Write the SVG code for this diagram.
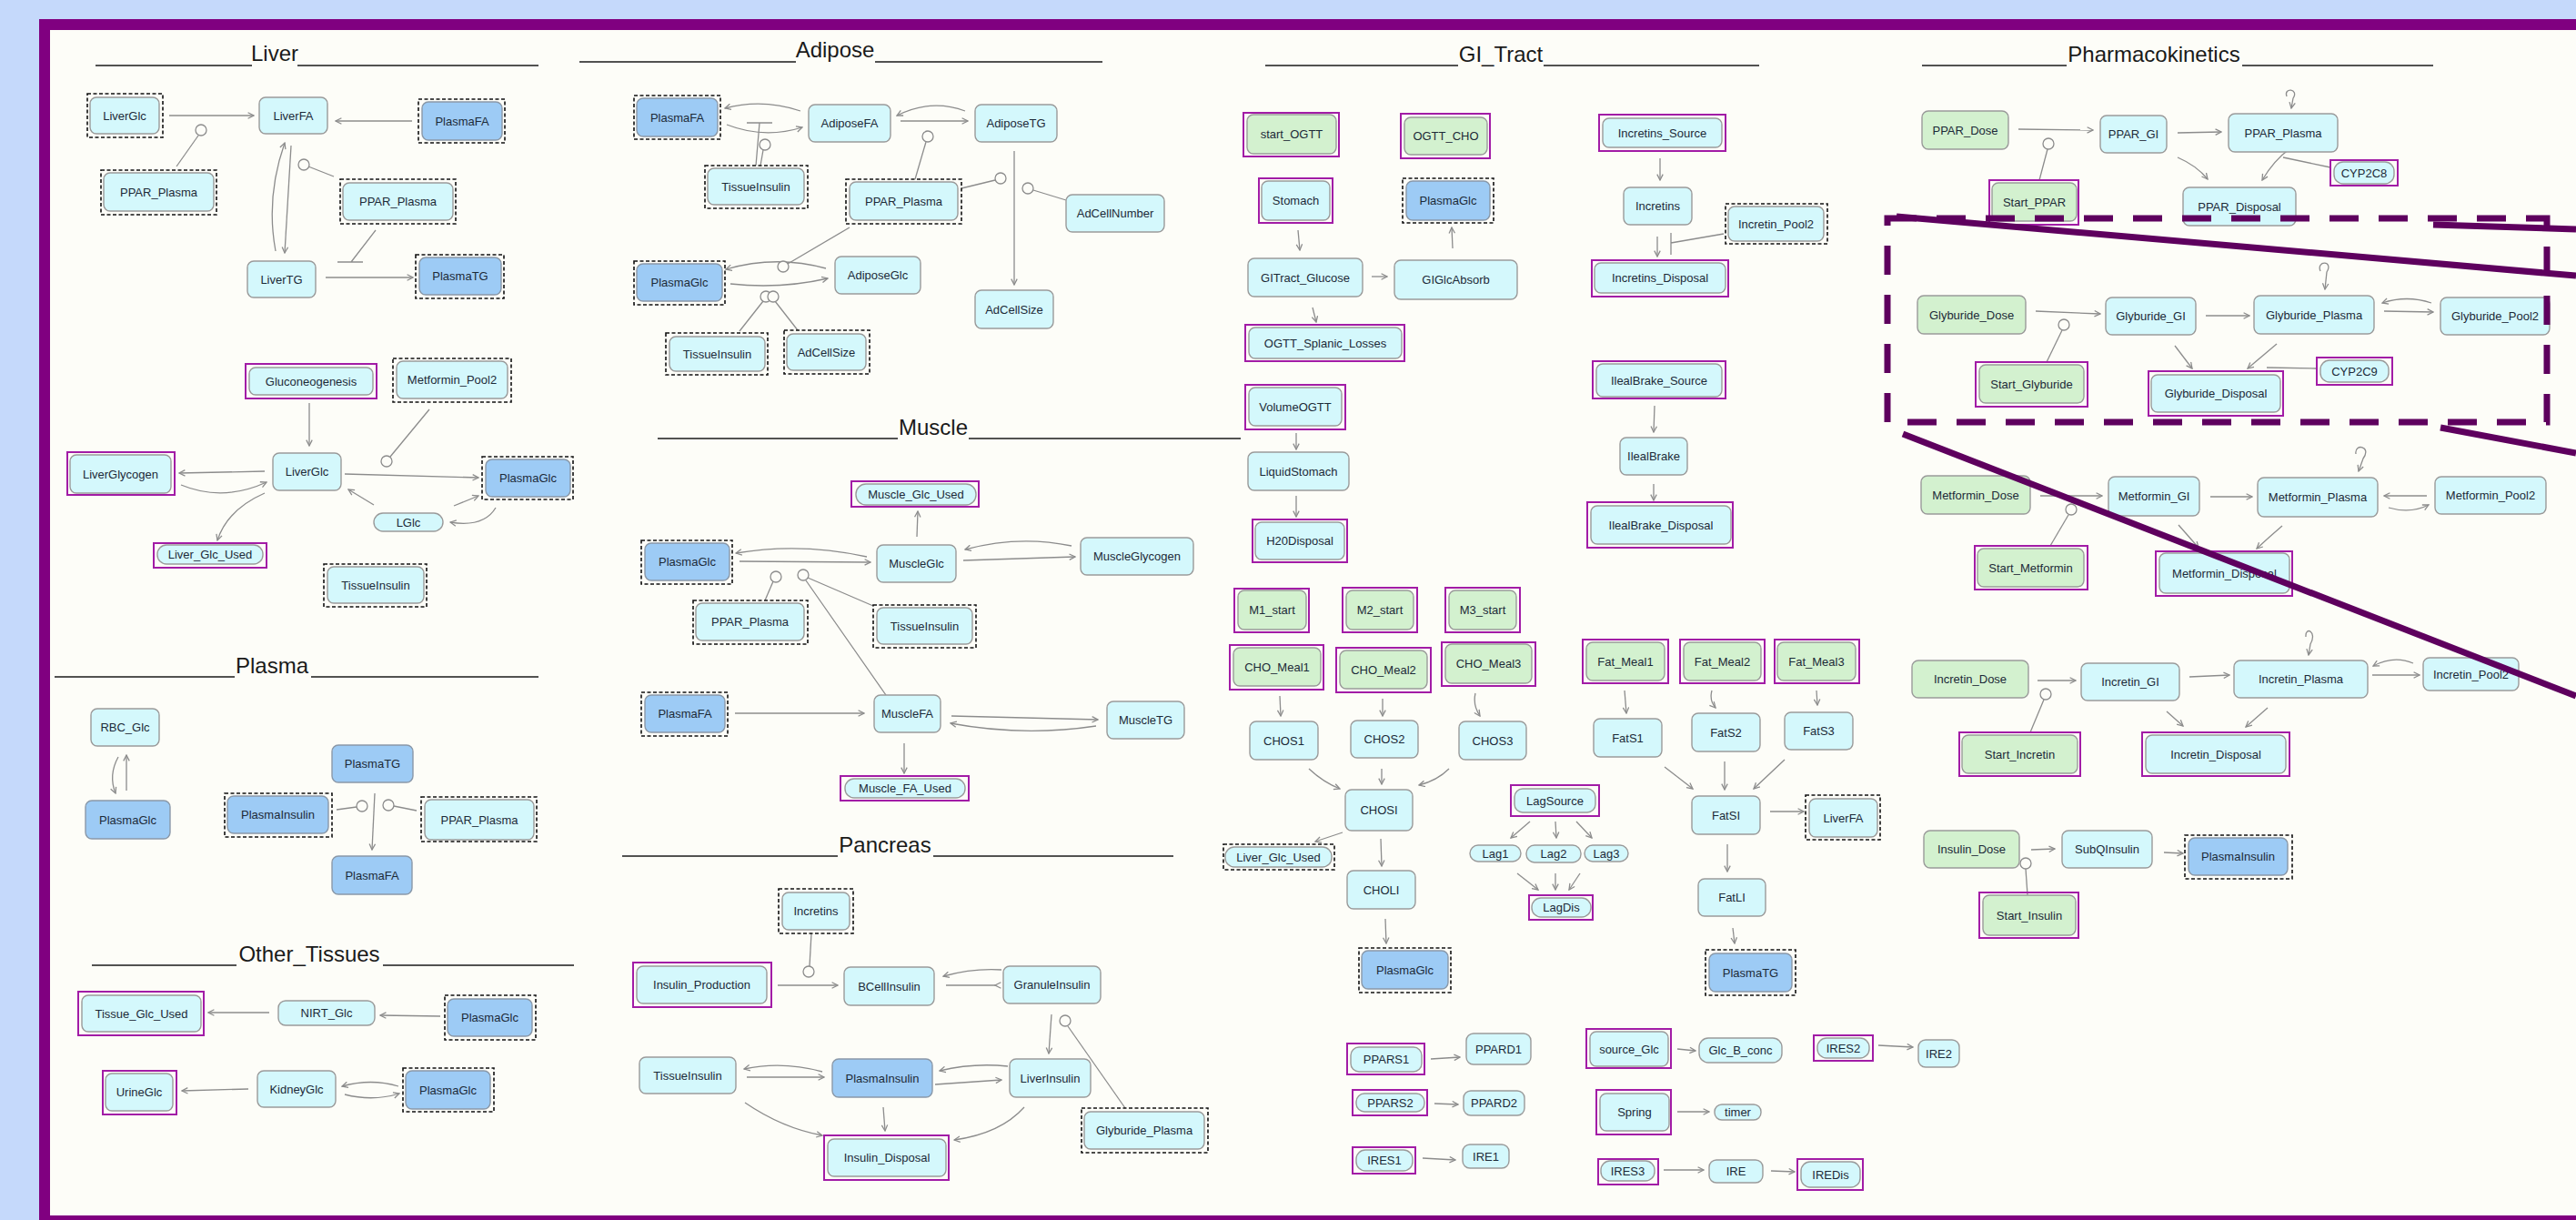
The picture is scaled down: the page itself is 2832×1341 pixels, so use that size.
<svg xmlns="http://www.w3.org/2000/svg" width="2832" height="1341" viewBox="0 0 2832 1341">
<style>
.bg{fill:#c5d9fb}.fr{fill:#800080}.cv{fill:#fdfdf8}
.tt{font-family:"Liberation Sans",Arial,sans-serif;font-size:24px;fill:#1a1a1a;text-anchor:middle}
.ul{stroke:#1a1a1a;stroke-width:1.6}
.n{fill:#d4f8fc;stroke:#9a9a9a;stroke-width:1.4}
.d{fill:#9dcbf5;stroke:#8a98a8;stroke-width:1.4}
.g{fill:#d3f1cf;stroke:#9a9a9a;stroke-width:1.4}
.pb{fill:none;stroke:#a21ca6;stroke-width:2}
.db{fill:none;stroke:#111;stroke-width:1.6;stroke-dasharray:4 2.5}
.lb{font-family:"Liberation Sans",Arial,sans-serif;font-size:13px;fill:#1c2a38;text-anchor:middle;dominant-baseline:central}
.c{fill:none;stroke:#8c8c8c;stroke-width:1.3}
.a{marker-end:url(#ar)}
.m{fill:#fdfdf8;stroke:#8c8c8c;stroke-width:1.3}
.hl{fill:none;stroke:#5e005e;stroke-width:7}
.hd{stroke-dasharray:32 22}
</style>
<defs>
<marker id="ar" viewBox="0 0 10 10" refX="9" refY="5" markerWidth="8" markerHeight="8" markerUnits="userSpaceOnUse" orient="auto"><path d="M1,1 L9,5 L1,9" fill="none" stroke="#8c8c8c" stroke-width="1.6"/></marker>
<marker id="arr" viewBox="0 0 10 10" refX="1" refY="5" markerWidth="8" markerHeight="8" markerUnits="userSpaceOnUse" orient="auto"><path d="M9,1 L1,5 L9,9" fill="none" stroke="#8c8c8c" stroke-width="1.6"/></marker>
</defs>
<rect class="bg" x="0" y="0" width="2832" height="1341"/>
<rect class="cv" x="55" y="33" width="2777" height="1303"/>
<rect class="fr" x="43" y="21" width="12" height="1320"/>
<rect class="fr" x="43" y="21" width="2789" height="12"/>
<rect class="fr" x="43" y="1336" width="2789" height="5"/>

<g id="titles">
<text class="tt" x="302" y="67">Liver</text><path class="ul" d="M105,72H277M327,72H592"/>
<text class="tt" x="299" y="740">Plasma</text><path class="ul" d="M60,744H258M342,744H592"/>
<text class="tt" x="340" y="1057">Other_Tissues</text><path class="ul" d="M101,1061H260M421,1061H631"/>
<text class="tt" x="918" y="63">Adipose</text><path class="ul" d="M637,68H875M962,68H1212"/>
<text class="tt" x="1026" y="478">Muscle</text><path class="ul" d="M723,482H987M1065,482H1364"/>
<text class="tt" x="973" y="937">Pancreas</text><path class="ul" d="M684,941H921M1026,941H1290"/>
<text class="tt" x="1650" y="68">GI_Tract</text><path class="ul" d="M1391,72H1603M1697,72H1934"/>
<text class="tt" x="2368" y="68">Pharmacokinetics</text><path class="ul" d="M2113,72H2272M2465,72H2675"/>
</g>

<g id="connectors">
<!-- Liver -->
<path class="c a" d="M186,127L279,127"/>
<path class="c a" d="M453,133L369,133"/>
<path class="c a" d="M320,160L313,278"/>
<path class="c a" d="M303,276Q292,217 313,157"/>
<path class="c" d="M194,183L218,149"/><circle class="m" cx="221" cy="143" r="6"/>
<path class="c" d="M367,194L339,183"/><circle class="m" cx="334" cy="181" r="6"/>
<path class="c a" d="M358,305L454,305"/>
<path class="c" d="M413,253L386,288M371,288H399"/>
<path class="c a" d="M340,443L340,490"/>
<path class="c" d="M472,450L429,502"/><circle class="m" cx="425" cy="507" r="6"/>
<path class="c a" d="M291,518L197,520"/>
<path class="c a" d="M199,533Q245,552 293,530"/>
<path class="c a" d="M291,542Q250,560 239,594"/>
<path class="c a" d="M379,521L526,525"/>
<path class="c a" d="M411,555L383,538"/>
<path class="c a" d="M499,556L526,545"/>
<path class="c a" d="M545,558Q532,580 495,574"/>
<!-- Plasma -->
<path class="c a" d="M130,832Q119,852 127,872"/>
<path class="c a" d="M139,869L139,830"/>
<path class="c a" d="M412,872L409,934"/>
<path class="c" d="M370,890L392,887"/><circle class="m" cx="398" cy="886" r="6"/>
<path class="c" d="M458,891L433,886"/><circle class="m" cx="427" cy="885" r="6"/>
<!-- Other tissues -->
<path class="c a" d="M296,1113L229,1113"/>
<path class="c a" d="M484,1117L418,1116"/>
<path class="c a" d="M273,1197L200,1199"/>
<path class="c a" d="M438,1194Q408,1185 376,1194"/>
<path class="c a" d="M379,1203Q410,1211 439,1202"/>
<!-- Adipose -->
<path class="c a" d="M880,122Q838,108 797,119"/>
<path class="c a" d="M799,137Q840,153 882,140"/>
<path class="c" d="M831,182L835,135M821,135H849"/>
<path class="c" d="M836,182L839,165"/><circle class="m" cx="841" cy="159" r="6"/>
<path class="c a" d="M1061,122Q1024,108 986,127"/>
<path class="c a" d="M990,133L1064,133"/>
<path class="c" d="M1006,197L1018,156"/><circle class="m" cx="1020" cy="150" r="6"/>
<path class="c a" d="M1115,166L1115,313"/>
<path class="c" d="M1057,207L1094,198"/><circle class="m" cx="1100" cy="196" r="6"/>
<path class="c" d="M1172,220L1136,209"/><circle class="m" cx="1130" cy="207" r="6"/>
<path class="c a" d="M908,295Q853,280 798,296"/>
<path class="c a" d="M803,312Q858,318 910,306"/>
<path class="c" d="M934,250L866,290"/><circle class="m" cx="861" cy="293" r="6"/>
<path class="c" d="M813,364L839,331"/><circle class="m" cx="842" cy="326" r="6"/>
<path class="c" d="M877,363L852,331"/><circle class="m" cx="850" cy="326" r="6"/>
<!-- Muscle -->
<path class="c a" d="M1008,590L1009,562"/>
<path class="c a" d="M953,612Q880,596 809,608"/>
<path class="c a" d="M813,617L957,618"/>
<path class="c a" d="M1178,600Q1120,588 1061,604"/>
<path class="c a" d="M1059,616L1182,612"/>
<path class="c" d="M841,660L850,639"/><circle class="m" cx="853" cy="634" r="6"/>
<path class="c" d="M960,666L888,635M974,764L886,638"/><circle class="m" cx="883" cy="632" r="6"/>
<path class="c a" d="M808,784L950,784"/>
<path class="c a" d="M1046,787L1207,791"/>
<path class="c a" d="M1205,798Q1125,810 1045,795"/>
<path class="c a" d="M994,817L994,850"/>
<!-- Pancreas -->
<path class="c a" d="M855,1083L921,1083"/>
<path class="c" d="M892,1026L890,1062"/><circle class="m" cx="889" cy="1068" r="6"/>
<path class="c a" d="M1101,1066Q1070,1064 1037,1073"/>
<path class="c" d="M1040,1083L1094,1083" marker-end="url(#arr)"/>
<path class="c a" d="M1156,1115L1153,1158"/>
<path class="c" d="M1237,1218L1174,1128"/><circle class="m" cx="1171" cy="1122" r="6"/>
<path class="c a" d="M904,1178Q860,1166 818,1175"/>
<path class="c a" d="M821,1184L906,1184"/>
<path class="c a" d="M1108,1172Q1070,1168 1033,1177"/>
<path class="c a" d="M1028,1192L1101,1187"/>
<path class="c a" d="M819,1212Q860,1240 904,1248"/>
<path class="c a" d="M971,1217L973,1243"/>
<path class="c a" d="M1126,1217Q1100,1246 1049,1253"/>
<!-- GI tract -->
<path class="c a" d="M1427,253L1429,275"/>
<path class="c a" d="M1597,273L1596,250"/>
<path class="c a" d="M1508,304L1525,304"/>
<path class="c a" d="M1443,338L1447,354"/>
<path class="c a" d="M1825,174L1825,198"/>
<path class="c a" d="M1822,260L1822,282"/>
<path class="c" d="M1895,257L1837,267M1837,256V280"/>
<path class="c a" d="M1819,446L1818,475"/>
<path class="c a" d="M1818,532L1818,550"/>
<path class="c a" d="M1425,476L1425,494"/>
<path class="c a" d="M1425,545L1425,568"/>
<path class="c a" d="M1407,765L1408,787"/>
<path class="c a" d="M1520,768L1520,787"/>
<path class="c a" d="M1622,762Q1619,775 1627,787"/>
<path class="c a" d="M1439,845Q1455,860 1473,867"/>
<path class="c a" d="M1519,845L1519,862"/>
<path class="c a" d="M1593,845Q1580,858 1560,863"/>
<path class="c a" d="M1476,915L1446,925"/>
<path class="c a" d="M1518,922L1519,952"/>
<path class="c a" d="M1523,1010L1524,1037"/>
<path class="c a" d="M1682,903L1661,921"/>
<path class="c a" d="M1710,903L1711,921"/>
<path class="c a" d="M1733,903L1750,921"/>
<path class="c a" d="M1668,960L1691,978"/>
<path class="c a" d="M1710,960L1710,978"/>
<path class="c a" d="M1737,960L1725,978"/>
<path class="c a" d="M1786,759L1788,784"/>
<path class="c a" d="M1882,759Q1879,770 1886,778"/>
<path class="c a" d="M1997,759L1998,775"/>
<path class="c a" d="M1830,843L1861,867"/>
<path class="c a" d="M1896,837L1896,868"/>
<path class="c a" d="M1962,835L1928,867"/>
<path class="c a" d="M1946,892L1983,892"/>
<path class="c a" d="M1899,928L1899,958"/>
<path class="c a" d="M1905,1020L1907,1037"/>
<path class="c a" d="M1573,1164L1605,1162"/>
<path class="c a" d="M1577,1213L1603,1214"/>
<path class="c a" d="M1564,1273L1600,1275"/>
<path class="c a" d="M1844,1153L1864,1155"/>
<path class="c a" d="M2065,1149L2103,1151"/>
<path class="c a" d="M1844,1222L1879,1222"/>
<path class="c a" d="M1829,1286L1873,1286"/>
<path class="c a" d="M1947,1287L1973,1288"/>
<!-- Pharmacokinetics -->
<path class="c a" d="M2219,142L2301,143"/>
<path class="c" d="M2242,198L2251,164"/><circle class="m" cx="2252" cy="158" r="6"/>
<path class="c a" d="M2394,146L2442,145"/>
<path class="c a" d="M2514,106C2510,96 2528,97 2521,108L2519,119"/>
<path class="c a" d="M2394,173Q2415,182 2427,197"/>
<path class="c a" d="M2518,163Q2500,176 2487,198"/>
<path class="c" d="M2562,184L2510,173"/>
<path class="c a" d="M2238,342L2309,345"/>
<path class="c" d="M2250,398L2267,363"/><circle class="m" cx="2269" cy="357" r="6"/>
<path class="c a" d="M2425,347L2473,347"/>
<path class="c a" d="M2551,298C2546,286 2566,286 2558,299L2556,318"/>
<path class="c a" d="M2673,333Q2646,324 2619,333"/>
<path class="c a" d="M2621,342L2675,343"/>
<path class="c a" d="M2391,380L2410,405"/>
<path class="c a" d="M2503,378L2471,405"/>
<path class="c" d="M2547,405L2492,404"/>
<path class="c a" d="M2243,545L2311,545"/>
<path class="c" d="M2254,600L2274,566"/><circle class="m" cx="2277" cy="560" r="6"/>
<path class="c a" d="M2430,546L2476,546"/>
<path class="c a" d="M2590,499C2588,487 2608,490 2598,504L2593,518"/>
<path class="c a" d="M2668,545L2621,545"/>
<path class="c a" d="M2626,558Q2650,565 2670,555"/>
<path class="c a" d="M2395,577L2417,602"/>
<path class="c a" d="M2509,578Q2495,590 2481,603"/>
<path class="c a" d="M2240,748L2282,748"/>
<path class="c" d="M2232,805L2247,769"/><circle class="m" cx="2249" cy="763" r="6"/>
<path class="c a" d="M2407,744L2451,742"/>
<path class="c a" d="M2535,700C2534,688 2548,694 2540,708L2538,720"/>
<path class="c a" d="M2653,729Q2632,720 2609,732"/>
<path class="c a" d="M2608,742L2660,742"/>
<path class="c a" d="M2382,782L2400,798"/>
<path class="c a" d="M2493,778L2469,799"/>
<path class="c a" d="M2233,934L2259,933"/>
<path class="c" d="M2229,984L2227,955"/><circle class="m" cx="2227" cy="949" r="6"/>
<path class="c a" d="M2379,937L2400,938"/>
</g>

<!-- Liver nodes -->
<g id="liver-LiverGlc"><rect class="db" x="96" y="103" width="83" height="48"/><rect class="n" x="99" y="107" width="76" height="40" rx="7"/><text class="lb" x="137" y="127">LiverGlc</text></g>
<g id="liver-LiverFA"><rect class="n" x="285" y="107" width="75" height="40" rx="7"/><text class="lb" x="322.5" y="127">LiverFA</text></g>
<g id="liver-PlasmaFA"><rect class="db" x="460" y="109" width="95" height="48"/><rect class="d" x="464" y="112" width="88" height="42" rx="7"/><text class="lb" x="508" y="133">PlasmaFA</text></g>
<g id="liver-PPAR_Plasma1"><rect class="db" x="111" y="187" width="127" height="49"/><rect class="n" x="114" y="190" width="121" height="42" rx="7"/><text class="lb" x="174.5" y="211">PPAR_Plasma</text></g>
<g id="liver-PPAR_Plasma2"><rect class="db" x="374" y="197" width="127" height="49"/><rect class="n" x="377" y="201" width="121" height="41" rx="7"/><text class="lb" x="437.5" y="221.5">PPAR_Plasma</text></g>
<g id="liver-LiverTG"><rect class="n" x="272" y="287" width="75" height="40" rx="7"/><text class="lb" x="309.5" y="307">LiverTG</text></g>
<g id="liver-PlasmaTG"><rect class="db" x="457" y="280" width="97" height="48"/><rect class="d" x="461" y="283" width="90" height="41" rx="7"/><text class="lb" x="506" y="303.5">PlasmaTG</text></g>
<g id="liver-Gluconeogenesis"><rect class="pb" x="270" y="400" width="144" height="38"/><rect class="n" x="274" y="404" width="136" height="30" rx="7"/><text class="lb" x="342" y="419">Gluconeogenesis</text></g>
<g id="liver-Metformin_Pool2"><rect class="db" x="432" y="394" width="130" height="48"/><rect class="n" x="436" y="397" width="122" height="41" rx="7"/><text class="lb" x="497" y="417.5">Metformin_Pool2</text></g>
<g id="liver-LiverGlycogen"><rect class="pb" x="74" y="497" width="118" height="47"/><rect class="n" x="77" y="500" width="111" height="42" rx="7"/><text class="lb" x="132.5" y="521">LiverGlycogen</text></g>
<g id="liver-LiverGlc2"><rect class="n" x="300" y="498" width="75" height="41" rx="7"/><text class="lb" x="337.5" y="518.5">LiverGlc</text></g>
<g id="liver-PlasmaGlc"><rect class="db" x="530" y="502" width="100" height="47"/><rect class="d" x="534" y="505" width="93" height="41" rx="7"/><text class="lb" x="580.5" y="525.5">PlasmaGlc</text></g>
<g id="liver-LGlc"><rect class="n" x="411" y="564" width="76" height="20" rx="10"/><text class="lb" x="449" y="574">LGlc</text></g>
<g id="liver-Liver_Glc_Used"><rect class="pb" x="169" y="597" width="124" height="27"/><rect class="n" x="173" y="599" width="116" height="21" rx="10"/><text class="lb" x="231" y="609.5">Liver_Glc_Used</text></g>
<g id="liver-TissueInsulin"><rect class="db" x="356" y="620" width="113" height="47"/><rect class="n" x="360" y="623" width="106" height="40" rx="7"/><text class="lb" x="413" y="643">TissueInsulin</text></g>

<!-- Plasma nodes -->
<g id="plasma-RBC_Glc"><rect class="n" x="100" y="779" width="75" height="41" rx="7"/><text class="lb" x="137.5" y="799.5">RBC_Glc</text></g>
<g id="plasma-PlasmaGlc"><rect class="d" x="94" y="880" width="93" height="42" rx="7"/><text class="lb" x="140.5" y="901">PlasmaGlc</text></g>
<g id="plasma-PlasmaTG"><rect class="d" x="365" y="819" width="89" height="41" rx="7"/><text class="lb" x="409.5" y="839.5">PlasmaTG</text></g>
<g id="plasma-PlasmaInsulin"><rect class="db" x="247" y="872" width="118" height="48"/><rect class="d" x="250" y="875" width="111" height="41" rx="7"/><text class="lb" x="305.5" y="895.5">PlasmaInsulin</text></g>
<g id="plasma-PPAR_Plasma"><rect class="db" x="463" y="876" width="127" height="49"/><rect class="n" x="467" y="879" width="120" height="44" rx="7"/><text class="lb" x="527" y="901">PPAR_Plasma</text></g>
<g id="plasma-PlasmaFA"><rect class="d" x="365" y="941" width="88" height="42" rx="7"/><text class="lb" x="409" y="962">PlasmaFA</text></g>

<!-- Other tissues nodes -->
<g id="ot-Tissue_Glc_Used"><rect class="pb" x="86" y="1090" width="138" height="48"/><rect class="n" x="90" y="1094" width="131" height="40" rx="7"/><text class="lb" x="155.5" y="1114">Tissue_Glc_Used</text></g>
<g id="ot-NIRT_Glc"><rect class="n" x="306" y="1100" width="106" height="27" rx="8"/><text class="lb" x="359" y="1113.5">NIRT_Glc</text></g>
<g id="ot-PlasmaGlc1"><rect class="db" x="489" y="1094" width="100" height="49"/><rect class="d" x="492" y="1098" width="93" height="41" rx="7"/><text class="lb" x="538.5" y="1118.5">PlasmaGlc</text></g>
<g id="ot-UrineGlc"><rect class="pb" x="113" y="1177" width="81" height="48"/><rect class="n" x="116" y="1180" width="74" height="41" rx="7"/><text class="lb" x="153" y="1200.5">UrineGlc</text></g>
<g id="ot-KidneyGlc"><rect class="n" x="283" y="1177" width="86" height="40" rx="7"/><text class="lb" x="326" y="1197">KidneyGlc</text></g>
<g id="ot-PlasmaGlc2"><rect class="db" x="443" y="1174" width="100" height="48"/><rect class="d" x="446" y="1177" width="93" height="42" rx="7"/><text class="lb" x="492.5" y="1198">PlasmaGlc</text></g>

<!-- Adipose nodes -->
<g id="ad-PlasmaFA"><rect class="db" x="697" y="105" width="95" height="48"/><rect class="d" x="700" y="108" width="89" height="42" rx="7"/><text class="lb" x="744.5" y="129">PlasmaFA</text></g>
<g id="ad-AdiposeFA"><rect class="n" x="889" y="115" width="90" height="41" rx="7"/><text class="lb" x="934" y="135.5">AdiposeFA</text></g>
<g id="ad-AdiposeTG"><rect class="n" x="1072" y="115" width="90" height="41" rx="7"/><text class="lb" x="1117" y="135.5">AdiposeTG</text></g>
<g id="ad-TissueInsulin1"><rect class="db" x="775" y="182" width="113" height="47"/><rect class="n" x="778" y="185" width="106" height="40" rx="7"/><text class="lb" x="831" y="205">TissueInsulin</text></g>
<g id="ad-PPAR_Plasma"><rect class="db" x="930" y="197" width="127" height="49"/><rect class="n" x="934" y="200" width="119" height="42" rx="7"/><text class="lb" x="993.5" y="221">PPAR_Plasma</text></g>
<g id="ad-AdCellNumber"><rect class="n" x="1172" y="214" width="108" height="41" rx="7"/><text class="lb" x="1226" y="234.5">AdCellNumber</text></g>
<g id="ad-PlasmaGlc"><rect class="db" x="697" y="287" width="100" height="48"/><rect class="d" x="700" y="290" width="94" height="41" rx="7"/><text class="lb" x="747" y="310.5">PlasmaGlc</text></g>
<g id="ad-AdiposeGlc"><rect class="n" x="918" y="282" width="94" height="41" rx="7"/><text class="lb" x="965" y="302.5">AdiposeGlc</text></g>
<g id="ad-AdCellSize1"><rect class="n" x="1072" y="319" width="86" height="42" rx="7"/><text class="lb" x="1115" y="340">AdCellSize</text></g>
<g id="ad-TissueInsulin2"><rect class="db" x="732" y="366" width="112" height="46"/><rect class="n" x="736" y="370" width="105" height="38" rx="7"/><text class="lb" x="788.5" y="389">TissueInsulin</text></g>
<g id="ad-AdCellSize2"><rect class="db" x="862" y="363" width="94" height="48"/><rect class="n" x="865" y="367" width="87" height="40" rx="7"/><text class="lb" x="908.5" y="387">AdCellSize</text></g>

<!-- Muscle nodes -->
<g id="mu-Muscle_Glc_Used"><rect class="pb" x="936" y="529" width="140" height="28"/><rect class="n" x="941" y="532" width="132" height="23" rx="11"/><text class="lb" x="1007" y="543.5">Muscle_Glc_Used</text></g>
<g id="mu-PlasmaGlc"><rect class="db" x="705" y="594" width="100" height="48"/><rect class="d" x="709" y="597" width="93" height="41" rx="7"/><text class="lb" x="755.5" y="617.5">PlasmaGlc</text></g>
<g id="mu-MuscleGlc"><rect class="n" x="964" y="599" width="87" height="41" rx="7"/><text class="lb" x="1007.5" y="619.5">MuscleGlc</text></g>
<g id="mu-MuscleGlycogen"><rect class="n" x="1188" y="591" width="124" height="41" rx="7"/><text class="lb" x="1250" y="611.5">MuscleGlycogen</text></g>
<g id="mu-PPAR_Plasma"><rect class="db" x="762" y="660" width="126" height="48"/><rect class="n" x="765" y="663" width="119" height="41" rx="7"/><text class="lb" x="824.5" y="683.5">PPAR_Plasma</text></g>
<g id="mu-TissueInsulin"><rect class="db" x="960" y="665" width="113" height="47"/><rect class="n" x="964" y="668" width="105" height="40" rx="7"/><text class="lb" x="1016.5" y="688">TissueInsulin</text></g>
<g id="mu-PlasmaFA"><rect class="db" x="705" y="761" width="95" height="48"/><rect class="d" x="709" y="764" width="88" height="41" rx="7"/><text class="lb" x="753" y="784.5">PlasmaFA</text></g>
<g id="mu-MuscleFA"><rect class="n" x="961" y="764" width="73" height="41" rx="7"/><text class="lb" x="997.5" y="784.5">MuscleFA</text></g>
<g id="mu-MuscleTG"><rect class="n" x="1217" y="771" width="85" height="41" rx="7"/><text class="lb" x="1259.5" y="791.5">MuscleTG</text></g>
<g id="mu-Muscle_FA_Used"><rect class="pb" x="924" y="853" width="141" height="27"/><rect class="n" x="929" y="856" width="132" height="21" rx="10"/><text class="lb" x="995" y="866.5">Muscle_FA_Used</text></g>

<!-- Pancreas nodes -->
<g id="pa-Incretins"><rect class="db" x="856" y="977" width="82" height="49"/><rect class="n" x="860" y="981" width="74" height="41" rx="7"/><text class="lb" x="897" y="1001.5">Incretins</text></g>
<g id="pa-Insulin_Production"><rect class="pb" x="696" y="1058" width="152" height="49"/><rect class="n" x="700" y="1062" width="143" height="41" rx="7"/><text class="lb" x="771.5" y="1082.5">Insulin_Production</text></g>
<g id="pa-BCellInsulin"><rect class="n" x="928" y="1063" width="99" height="42" rx="7"/><text class="lb" x="977.5" y="1084">BCellInsulin</text></g>
<g id="pa-GranuleInsulin"><rect class="n" x="1103" y="1062" width="107" height="41" rx="7"/><text class="lb" x="1156.5" y="1082.5">GranuleInsulin</text></g>
<g id="pa-TissueInsulin"><rect class="n" x="703" y="1162" width="106" height="40" rx="7"/><text class="lb" x="756" y="1182">TissueInsulin</text></g>
<g id="pa-PlasmaInsulin"><rect class="d" x="915" y="1164" width="110" height="42" rx="7"/><text class="lb" x="970" y="1185">PlasmaInsulin</text></g>
<g id="pa-LiverInsulin"><rect class="n" x="1110" y="1164" width="89" height="42" rx="7"/><text class="lb" x="1154.5" y="1185">LiverInsulin</text></g>
<g id="pa-Insulin_Disposal"><rect class="pb" x="906" y="1248" width="137" height="49"/><rect class="n" x="910" y="1252" width="130" height="41" rx="7"/><text class="lb" x="975" y="1272.5">Insulin_Disposal</text></g>
<g id="pa-Glyburide_Plasma"><rect class="db" x="1189" y="1218" width="139" height="49"/><rect class="n" x="1192" y="1222" width="132" height="41" rx="7"/><text class="lb" x="1258" y="1242.5">Glyburide_Plasma</text></g>

<!-- GI tract nodes -->
<g id="gi-start_OGTT"><rect class="pb" x="1367" y="124" width="105" height="48"/><rect class="g" x="1371" y="126" width="98" height="43" rx="7"/><text class="lb" x="1420" y="147.5">start_OGTT</text></g>
<g id="gi-OGTT_CHO"><rect class="pb" x="1540" y="125" width="98" height="49"/><rect class="g" x="1544" y="129" width="91" height="41" rx="7"/><text class="lb" x="1589.5" y="149.5">OGTT_CHO</text></g>
<g id="gi-Incretins_Source"><rect class="pb" x="1758" y="126" width="139" height="40"/><rect class="n" x="1762" y="130" width="131" height="32" rx="7"/><text class="lb" x="1827.5" y="146">Incretins_Source</text></g>
<g id="gi-Stomach"><rect class="pb" x="1384" y="196" width="81" height="49"/><rect class="n" x="1387" y="199" width="75" height="43" rx="7"/><text class="lb" x="1424.5" y="220.5">Stomach</text></g>
<g id="gi-PlasmaGlc1"><rect class="db" x="1542" y="196" width="100" height="49"/><rect class="d" x="1546" y="199" width="92" height="43" rx="7"/><text class="lb" x="1592" y="220.5">PlasmaGlc</text></g>
<g id="gi-Incretins"><rect class="n" x="1785" y="206" width="75" height="41" rx="7"/><text class="lb" x="1822.5" y="226.5">Incretins</text></g>
<g id="gi-Incretin_Pool2"><rect class="db" x="1897" y="224" width="112" height="44"/><rect class="n" x="1900" y="227" width="105" height="38" rx="7"/><text class="lb" x="1952.5" y="246">Incretin_Pool2</text></g>
<g id="gi-GITract_Glucose"><rect class="n" x="1372" y="284" width="126" height="42" rx="7"/><text class="lb" x="1435" y="305">GITract_Glucose</text></g>
<g id="gi-GIGlcAbsorb"><rect class="n" x="1533" y="286" width="135" height="43" rx="7"/><text class="lb" x="1600.5" y="307.5">GIGlcAbsorb</text></g>
<g id="gi-Incretins_Disposal"><rect class="pb" x="1750" y="286" width="150" height="40"/><rect class="n" x="1753" y="289" width="144" height="33" rx="7"/><text class="lb" x="1825" y="305.5">Incretins_Disposal</text></g>
<g id="gi-OGTT_Splanic_Losses"><rect class="pb" x="1369" y="357" width="175" height="40"/><rect class="n" x="1373" y="360" width="168" height="34" rx="7"/><text class="lb" x="1457" y="377">OGTT_Splanic_Losses</text></g>
<g id="gi-IlealBrake_Source"><rect class="pb" x="1751" y="397" width="146" height="41"/><rect class="n" x="1755" y="400" width="138" height="36" rx="7"/><text class="lb" x="1824" y="418">IlealBrake_Source</text></g>
<g id="gi-VolumeOGTT"><rect class="pb" x="1369" y="423" width="110" height="49"/><rect class="n" x="1373" y="426" width="102" height="42" rx="7"/><text class="lb" x="1424" y="447">VolumeOGTT</text></g>
<g id="gi-LiquidStomach"><rect class="n" x="1372" y="497" width="111" height="42" rx="7"/><text class="lb" x="1427.5" y="518">LiquidStomach</text></g>
<g id="gi-IlealBrake"><rect class="n" x="1781" y="481" width="74" height="41" rx="7"/><text class="lb" x="1818" y="501.5">IlealBrake</text></g>
<g id="gi-IlealBrake_Disposal"><rect class="pb" x="1745" y="552" width="160" height="50"/><rect class="n" x="1749" y="556" width="154" height="42" rx="7"/><text class="lb" x="1826" y="577">IlealBrake_Disposal</text></g>
<g id="gi-H20Disposal"><rect class="pb" x="1377" y="571" width="104" height="47"/><rect class="n" x="1380" y="574" width="98" height="41" rx="7"/><text class="lb" x="1429" y="594.5">H20Disposal</text></g>
<g id="gi-M1_start"><rect class="pb" x="1357" y="647" width="82" height="48"/><rect class="g" x="1361" y="649" width="75" height="43" rx="7"/><text class="lb" x="1398.5" y="670.5">M1_start</text></g>
<g id="gi-M2_start"><rect class="pb" x="1476" y="646" width="82" height="49"/><rect class="g" x="1480" y="649" width="74" height="43" rx="7"/><text class="lb" x="1517" y="670.5">M2_start</text></g>
<g id="gi-M3_start"><rect class="pb" x="1589" y="646" width="82" height="49"/><rect class="g" x="1593" y="649" width="74" height="43" rx="7"/><text class="lb" x="1630" y="670.5">M3_start</text></g>
<g id="gi-CHO_Meal1"><rect class="pb" x="1352" y="709" width="103" height="49"/><rect class="g" x="1356" y="712" width="96" height="42" rx="7"/><text class="lb" x="1404" y="733">CHO_Meal1</text></g>
<g id="gi-CHO_Meal2"><rect class="pb" x="1469" y="712" width="104" height="49"/><rect class="g" x="1473" y="715" width="96" height="42" rx="7"/><text class="lb" x="1521" y="736">CHO_Meal2</text></g>
<g id="gi-CHO_Meal3"><rect class="pb" x="1585" y="706" width="103" height="48"/><rect class="g" x="1589" y="708" width="95" height="43" rx="7"/><text class="lb" x="1636.5" y="729.5">CHO_Meal3</text></g>
<g id="gi-CHOS1"><rect class="n" x="1374" y="793" width="75" height="42" rx="7"/><text class="lb" x="1411.5" y="814">CHOS1</text></g>
<g id="gi-CHOS2"><rect class="n" x="1485" y="792" width="74" height="41" rx="7"/><text class="lb" x="1522" y="812.5">CHOS2</text></g>
<g id="gi-CHOS3"><rect class="n" x="1604" y="793" width="74" height="42" rx="7"/><text class="lb" x="1641" y="814">CHOS3</text></g>
<g id="gi-CHOSI"><rect class="n" x="1479" y="868" width="74" height="45" rx="7"/><text class="lb" x="1516" y="890.5">CHOSI</text></g>
<g id="gi-Liver_Glc_Used"><rect class="db" x="1345" y="928" width="122" height="28"/><rect class="n" x="1347" y="931" width="117" height="22" rx="10"/><text class="lb" x="1405.5" y="942">Liver_Glc_Used</text></g>
<g id="gi-CHOLI"><rect class="n" x="1481" y="957" width="75" height="42" rx="7"/><text class="lb" x="1518.5" y="978">CHOLI</text></g>
<g id="gi-LagSource"><rect class="pb" x="1661" y="863" width="97" height="34"/><rect class="n" x="1665" y="867" width="89" height="26" rx="9"/><text class="lb" x="1709.5" y="880">LagSource</text></g>
<g id="gi-Lag1"><rect class="n" x="1616" y="929" width="56" height="18" rx="9"/><text class="lb" x="1644" y="938">Lag1</text></g>
<g id="gi-Lag2"><rect class="n" x="1678" y="929" width="60" height="19" rx="9"/><text class="lb" x="1708" y="938.5">Lag2</text></g>
<g id="gi-Lag3"><rect class="n" x="1742" y="929" width="48" height="18" rx="9"/><text class="lb" x="1766" y="938">Lag3</text></g>
<g id="gi-LagDis"><rect class="pb" x="1681" y="984" width="70" height="27"/><rect class="n" x="1684" y="987" width="65" height="21" rx="10"/><text class="lb" x="1716.5" y="997.5">LagDis</text></g>
<g id="gi-Fat_Meal1"><rect class="pb" x="1740" y="703" width="94" height="48"/><rect class="g" x="1744" y="706" width="86" height="42" rx="7"/><text class="lb" x="1787" y="727">Fat_Meal1</text></g>
<g id="gi-Fat_Meal2"><rect class="pb" x="1847" y="703" width="93" height="48"/><rect class="g" x="1851" y="706" width="85" height="42" rx="7"/><text class="lb" x="1893.5" y="727">Fat_Meal2</text></g>
<g id="gi-Fat_Meal3"><rect class="pb" x="1951" y="703" width="93" height="48"/><rect class="g" x="1954" y="706" width="86" height="42" rx="7"/><text class="lb" x="1997" y="727">Fat_Meal3</text></g>
<g id="gi-FatS1"><rect class="n" x="1752" y="790" width="75" height="42" rx="7"/><text class="lb" x="1789.5" y="811">FatS1</text></g>
<g id="gi-FatS2"><rect class="n" x="1860" y="784" width="75" height="42" rx="7"/><text class="lb" x="1897.5" y="805">FatS2</text></g>
<g id="gi-FatS3"><rect class="n" x="1962" y="783" width="75" height="41" rx="7"/><text class="lb" x="1999.5" y="803.5">FatS3</text></g>
<g id="gi-FatSI"><rect class="n" x="1860" y="875" width="75" height="42" rx="7"/><text class="lb" x="1897.5" y="896">FatSI</text></g>
<g id="gi-LiverFA"><rect class="db" x="1985" y="874" width="82" height="49"/><rect class="n" x="1989" y="878" width="75" height="42" rx="7"/><text class="lb" x="2026.5" y="899">LiverFA</text></g>
<g id="gi-FatLI"><rect class="n" x="1867" y="966" width="74" height="41" rx="7"/><text class="lb" x="1904" y="986.5">FatLI</text></g>
<g id="gi-PlasmaGlc2"><rect class="db" x="1494" y="1042" width="101" height="49"/><rect class="d" x="1497" y="1045" width="95" height="42" rx="7"/><text class="lb" x="1544.5" y="1066">PlasmaGlc</text></g>
<g id="gi-PlasmaTG"><rect class="db" x="1875" y="1044" width="99" height="50"/><rect class="d" x="1879" y="1048" width="91" height="42" rx="7"/><text class="lb" x="1924.5" y="1069">PlasmaTG</text></g>
<g id="gi-PPARS1"><rect class="pb" x="1481" y="1147" width="85" height="34"/><rect class="n" x="1485" y="1151" width="78" height="27" rx="9"/><text class="lb" x="1524" y="1164.5">PPARS1</text></g>
<g id="gi-PPARD1"><rect class="n" x="1612" y="1136" width="71" height="34" rx="8"/><text class="lb" x="1647.5" y="1153">PPARD1</text></g>
<g id="gi-PPARS2"><rect class="pb" x="1487" y="1198" width="82" height="28"/><rect class="n" x="1491" y="1202" width="75" height="20" rx="9"/><text class="lb" x="1528.5" y="1212">PPARS2</text></g>
<g id="gi-PPARD2"><rect class="n" x="1609" y="1199" width="67" height="27" rx="8"/><text class="lb" x="1642.5" y="1212.5">PPARD2</text></g>
<g id="gi-IRES1"><rect class="pb" x="1487" y="1261" width="69" height="29"/><rect class="n" x="1491" y="1264" width="62" height="23" rx="10"/><text class="lb" x="1522" y="1275.5">IRES1</text></g>
<g id="gi-IRE1"><rect class="n" x="1608" y="1258" width="51" height="26" rx="8"/><text class="lb" x="1633.5" y="1271">IRE1</text></g>
<g id="gi-source_Glc"><rect class="pb" x="1744" y="1131" width="93" height="43"/><rect class="n" x="1748" y="1134" width="86" height="38" rx="7"/><text class="lb" x="1791" y="1153">source_Glc</text></g>
<g id="gi-Glc_B_conc"><rect class="n" x="1868" y="1141" width="91" height="27" rx="10"/><text class="lb" x="1913.5" y="1154.5">Glc_B_conc</text></g>
<g id="gi-IRES2"><rect class="pb" x="1994" y="1138" width="65" height="28"/><rect class="n" x="1998" y="1141" width="57" height="22" rx="10"/><text class="lb" x="2026.5" y="1152">IRES2</text></g>
<g id="gi-IRE2"><rect class="n" x="2109" y="1143" width="45" height="30" rx="8"/><text class="lb" x="2131.5" y="1158">IRE2</text></g>
<g id="gi-Spring"><rect class="pb" x="1755" y="1198" width="82" height="49"/><rect class="n" x="1759" y="1202" width="76" height="41" rx="7"/><text class="lb" x="1797" y="1222.5">Spring</text></g>
<g id="gi-timer"><rect class="n" x="1885" y="1214" width="51" height="17" rx="8"/><text class="lb" x="1910.5" y="1222.5">timer</text></g>
<g id="gi-IRES3"><rect class="pb" x="1757" y="1274" width="66" height="28"/><rect class="n" x="1760" y="1276" width="59" height="22" rx="10"/><text class="lb" x="1789.5" y="1287">IRES3</text></g>
<g id="gi-IRE"><rect class="n" x="1879" y="1275" width="59" height="25" rx="8"/><text class="lb" x="1908.5" y="1287.5">IRE</text></g>
<g id="gi-IREDis"><rect class="pb" x="1976" y="1274" width="72" height="34"/><rect class="n" x="1980" y="1277" width="65" height="28" rx="10"/><text class="lb" x="2012.5" y="1291">IREDis</text></g>

<!-- Pharmacokinetics nodes -->
<g id="pk-PPAR_Dose"><rect class="g" x="2113" y="122" width="95" height="42" rx="7"/><text class="lb" x="2160.5" y="143">PPAR_Dose</text></g>
<g id="pk-PPAR_GI"><rect class="n" x="2309" y="127" width="73" height="41" rx="7"/><text class="lb" x="2345.5" y="147.5">PPAR_GI</text></g>
<g id="pk-PPAR_Plasma"><rect class="n" x="2450" y="125" width="120" height="42" rx="7"/><text class="lb" x="2510" y="146">PPAR_Plasma</text></g>
<g id="pk-CYP2C8"><rect class="pb" x="2562" y="176" width="74" height="28"/><rect class="n" x="2566" y="178" width="66" height="24" rx="10"/><text class="lb" x="2599" y="190">CYP2C8</text></g>
<g id="pk-Start_PPAR"><rect class="pb" x="2187" y="198" width="98" height="49"/><rect class="g" x="2190" y="201" width="93" height="42" rx="7"/><text class="lb" x="2236.5" y="222">Start_PPAR</text></g>
<g id="pk-PPAR_Disposal"><rect class="n" x="2400" y="206" width="124" height="42" rx="7"/><text class="lb" x="2462" y="227">PPAR_Disposal</text></g>
<g id="pk-Glyburide_Dose"><rect class="g" x="2108" y="325" width="119" height="42" rx="7"/><text class="lb" x="2167.5" y="346">Glyburide_Dose</text></g>
<g id="pk-Glyburide_GI"><rect class="n" x="2315" y="327" width="99" height="41" rx="7"/><text class="lb" x="2364.5" y="347.5">Glyburide_GI</text></g>
<g id="pk-Glyburide_Plasma"><rect class="n" x="2478" y="325" width="132" height="42" rx="7"/><text class="lb" x="2544" y="346">Glyburide_Plasma</text></g>
<g id="pk-Glyburide_Pool2"><rect class="n" x="2683" y="327" width="120" height="41" rx="7"/><text class="lb" x="2743" y="347.5">Glyburide_Pool2</text></g>
<g id="pk-Start_Glyburide"><rect class="pb" x="2172" y="398" width="123" height="49"/><rect class="g" x="2176" y="401" width="115" height="42" rx="7"/><text class="lb" x="2233.5" y="422">Start_Glyburide</text></g>
<g id="pk-Glyburide_Disposal"><rect class="pb" x="2362" y="408" width="148" height="49"/><rect class="n" x="2365" y="412" width="142" height="41" rx="7"/><text class="lb" x="2436" y="432.5">Glyburide_Disposal</text></g>
<g id="pk-CYP2C9"><rect class="pb" x="2547" y="393" width="83" height="30"/><rect class="n" x="2551" y="396" width="75" height="24" rx="10"/><text class="lb" x="2588.5" y="408">CYP2C9</text></g>
<g id="pk-Metformin_Dose"><rect class="g" x="2112" y="523" width="120" height="42" rx="7"/><text class="lb" x="2172" y="544">Metformin_Dose</text></g>
<g id="pk-Metformin_GI"><rect class="n" x="2318" y="524" width="100" height="43" rx="7"/><text class="lb" x="2368" y="545.5">Metformin_GI</text></g>
<g id="pk-Metformin_Plasma"><rect class="n" x="2482" y="525" width="132" height="43" rx="7"/><text class="lb" x="2548" y="546.5">Metformin_Plasma</text></g>
<g id="pk-Metformin_Pool2"><rect class="n" x="2677" y="524" width="122" height="41" rx="7"/><text class="lb" x="2738" y="544.5">Metformin_Pool2</text></g>
<g id="pk-Start_Metformin"><rect class="pb" x="2171" y="600" width="124" height="48"/><rect class="g" x="2174" y="603" width="117" height="42" rx="7"/><text class="lb" x="2232.5" y="624">Start_Metformin</text></g>
<g id="pk-Metformin_Disposal"><rect class="pb" x="2370" y="606" width="150" height="49"/><rect class="n" x="2374" y="608" width="143" height="44" rx="7"/><text class="lb" x="2445.5" y="630">Metformin_Disposal</text></g>
<g id="pk-Incretin_Dose"><rect class="g" x="2102" y="726" width="128" height="41" rx="7"/><text class="lb" x="2166" y="746.5">Incretin_Dose</text></g>
<g id="pk-Incretin_GI"><rect class="n" x="2288" y="729" width="108" height="41" rx="7"/><text class="lb" x="2342" y="749.5">Incretin_GI</text></g>
<g id="pk-Incretin_Plasma"><rect class="n" x="2456" y="726" width="147" height="41" rx="7"/><text class="lb" x="2529.5" y="746.5">Incretin_Plasma</text></g>
<g id="pk-Incretin_Pool2"><rect class="n" x="2664" y="723" width="105" height="36" rx="7"/><text class="lb" x="2716.5" y="741">Incretin_Pool2</text></g>
<g id="pk-Start_Incretin"><rect class="pb" x="2154" y="805" width="133" height="48"/><rect class="g" x="2157" y="808" width="127" height="42" rx="7"/><text class="lb" x="2220.5" y="829">Start_Incretin</text></g>
<g id="pk-Incretin_Disposal"><rect class="pb" x="2355" y="805" width="162" height="48"/><rect class="n" x="2359" y="808" width="154" height="42" rx="7"/><text class="lb" x="2436" y="829">Incretin_Disposal</text></g>
<g id="pk-Insulin_Dose"><rect class="g" x="2115" y="913" width="105" height="41" rx="7"/><text class="lb" x="2167.5" y="933.5">Insulin_Dose</text></g>
<g id="pk-SubQInsulin"><rect class="n" x="2267" y="913" width="99" height="41" rx="7"/><text class="lb" x="2316.5" y="933.5">SubQInsulin</text></g>
<g id="pk-PlasmaInsulin"><rect class="db" x="2402" y="918" width="118" height="48"/><rect class="d" x="2406" y="921" width="109" height="41" rx="7"/><text class="lb" x="2460.5" y="941.5">PlasmaInsulin</text></g>
<g id="pk-Start_Insulin"><rect class="pb" x="2176" y="981" width="109" height="50"/><rect class="g" x="2180" y="984" width="102" height="44" rx="7"/><text class="lb" x="2231" y="1006">Start_Insulin</text></g>

<g id="highlight">
<rect class="hl hd" x="2075" y="240" width="725" height="224"/>
<path class="hl" d="M2085,238L2832,303"/>
<path class="hl" d="M2675,247L2832,252"/>
<path class="hl" stroke-width="9" d="M2092,477L2832,765"/>
<path class="hl" d="M2683,470L2832,498"/>
</g>
</svg>
